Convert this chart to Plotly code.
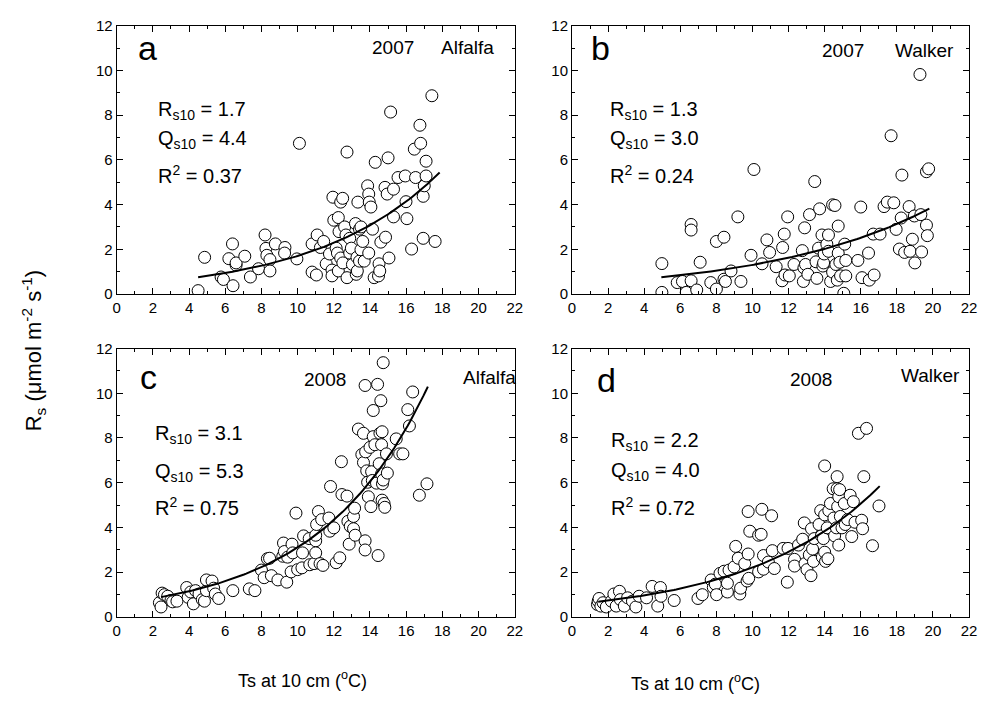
import numpy as np
import plotly.graph_objects as go

# page is 989x704; the browser body has an 8px margin, so the figure is 973x688 placed at (8, 8)
PAGE_W, PAGE_H, OFF = 989, 704, 8
W, H = PAGE_W - 2 * OFF, PAGE_H - 2 * OFF

# ---------------- data ----------------
a_x = [4.5, 4.86, 5.77, 5.9, 6.2, 6.4, 6.43, 6.6, 6.6, 7.08, 7.39, 7.84, 8.2, 8.25, 8.3, 8.47, 8.47, 8.77, 9.3, 9.28,
       9.96, 10.1, 10.8, 10.8, 11.04, 11.08, 11.26, 11.44, 11.58, 11.76, 11.9, 11.9, 11.95, 12.0, 12.13, 12.25, 12.29,
       12.38, 12.49, 12.25, 12.2, 12.38, 12.6, 12.5, 12.67, 12.73, 12.73, 12.88, 12.88, 12.97, 13.03, 13.2, 13.28, 13.42,
       13.33, 13.24, 13.3, 13.42, 13.5, 13.6, 13.68, 13.5, 13.87, 13.93, 13.96, 14.05, 13.93, 14.14, 14.23, 14.29, 14.5,
       14.47, 14.54, 14.6, 14.83, 14.86, 14.95, 15.0, 15.05, 15.14, 15.3, 15.3, 15.55, 15.95, 15.99, 16.04, 16.3, 16.45,
       16.52, 16.76, 16.8, 16.94, 16.94, 17.0, 17.1, 17.1, 17.42, 17.6]
a_y = [0.15, 1.64, 0.76, 0.65, 1.58, 2.24, 0.37, 1.29, 1.39, 1.69, 0.76, 1.13, 2.64, 2.04, 1.73, 1.54, 1.03, 2.24, 2.08, 1.83,
       1.57, 6.74, 2.24, 0.98, 0.85, 2.64, 2.08, 2.35, 1.35, 1.79, 1.07, 0.81, 4.33, 3.3, 2.05, 1.03, 2.79,
       4.11, 4.28, 3.42, 1.83, 1.61, 3.0, 1.39, 2.64, 6.35, 0.73, 2.49, 1.83, 2.05, 1.32, 3.15, 1.64, 2.9,
       4.11, 0.88, 1.03, 1.47, 1.98, 2.35, 1.47, 3.0, 4.84, 4.47, 4.11, 3.89, 1.83, 2.9, 0.73, 5.89, 1.35,
       0.81, 1.03, 2.32, 4.77, 2.54, 4.47, 6.09, 1.61, 8.14, 4.69, 3.45, 5.21, 5.28, 4.13, 3.37, 2.01, 6.48,
       5.21, 7.55, 6.74, 2.49, 4.37, 4.84, 5.94, 5.28, 8.87, 2.35]

b_x = [4.98, 4.98, 5.83, 6.12, 6.33, 6.6, 6.6, 6.6, 6.91, 7.1, 7.69, 8.0, 8.0, 8.42, 8.42, 8.5, 8.81, 9.19, 9.36, 9.92,
       10.08, 10.53, 10.8, 10.95, 11.31, 11.64, 11.67, 11.76, 11.8, 11.95, 12.04, 12.3, 12.76, 12.82, 12.89, 12.85, 12.94,
       13.07, 13.16, 13.45, 13.52, 13.57, 13.66, 13.72, 13.85, 13.9, 13.94, 13.97, 14.12, 14.21, 14.21, 14.33, 14.44,
       14.44, 14.57, 14.62, 14.7, 14.75, 14.75, 14.84, 14.88, 15.11, 15.17, 15.17, 15.06, 16.0, 15.84, 16.07, 16.43,
       16.47, 16.69, 16.74, 17.07, 17.29, 17.47, 17.68, 17.83, 17.96, 18.14, 18.24, 18.28, 18.43, 18.68, 18.73, 18.86,
       18.97, 19.0, 19.28, 19.33, 19.37, 19.64, 19.64, 19.69, 19.76]
b_y = [1.36, 0.07, 0.51, 0.56, 0.07, 0.59, 3.11, 2.86, 0.18, 1.42, 0.51, 2.35, 0.22, 2.54, 0.66, 0.56, 1.03, 3.45, 0.56, 1.73,
       5.57, 1.35, 2.42, 1.86, 1.22, 0.59, 2.08, 2.68, 0.85, 3.45, 0.81, 1.32, 1.94, 0.56, 2.96, 1.17, 1.32,
       0.88, 3.55, 5.03, 1.44, 0.7, 2.05, 3.81, 2.64, 1.25, 1.39, 1.79, 2.23, 2.64, 1.91, 0.56, 0.98,
       3.99, 3.96, 1.32, 0.62, 3.04, 1.83, 1.42, 0.81, 2.23, 1.5, 0.81, 0.03, 3.89, 1.5, 0.73, 1.83,
       0.62, 2.68, 0.85, 2.68, 3.91, 4.11, 7.08, 4.08, 2.89, 2.01, 3.4, 5.32, 1.86, 3.91, 1.91, 2.45,
       3.49, 1.39, 9.82, 3.55, 1.88, 3.08, 5.47, 2.61, 5.6]

c_x = [2.36, 2.45, 2.51, 2.64, 2.82, 3.0, 3.09, 3.33, 3.87, 3.95, 4.09, 4.24, 4.36, 4.55, 4.73, 4.85, 4.96, 4.96, 5.27, 5.36,
       5.45, 5.64, 6.42, 7.33, 7.64, 8.0, 8.15, 8.33, 8.45, 8.55, 8.91, 9.18, 9.22, 9.27, 9.4, 9.45, 9.64, 9.69, 9.73,
       9.91, 10.0, 10.24, 10.27, 10.33, 10.64, 10.67, 10.91, 11.0, 11.0, 11.0, 11.05, 11.15, 11.24, 11.33, 11.4, 11.73,
       11.78, 11.82, 12.0, 12.13, 12.33, 12.42, 12.45, 12.73, 12.78, 12.85, 12.91, 13.09, 13.15, 13.09, 13.18, 13.36,
       13.55, 13.64, 13.64, 13.73, 13.73, 13.73, 13.76, 13.82, 13.87, 13.91, 14.0, 14.05, 14.09, 14.13, 14.18, 14.18,
       14.27, 14.36, 14.42, 14.45, 14.51, 14.55, 14.6, 14.64, 14.64, 14.67, 14.67, 14.69, 14.73, 14.73, 14.78, 14.82,
       14.91, 14.96, 15.45, 15.64, 15.82, 16.09, 16.18, 16.36, 16.73, 17.15]
c_y = [0.63, 0.44, 1.06, 0.99, 0.92, 0.73, 0.67, 0.7, 1.31, 0.87, 1.11, 0.58, 1.17, 1.02, 0.77, 0.7, 1.17, 1.65, 1.6, 1.28,
       1.02, 0.82, 1.17, 1.25, 1.17, 2.09, 1.75, 2.6, 2.62, 1.84, 1.65, 2.71, 3.3, 2.92, 1.55, 2.67, 2.01, 3.25, 2.86,
       4.64, 2.11, 2.19, 2.86, 3.62, 3.5, 2.33, 2.38, 3.4, 2.86, 3.65, 4.13, 4.71, 2.38, 4.35, 2.3, 4.42,
       3.83, 5.83, 3.98, 2.42, 2.64, 6.94, 5.47, 5.4, 4.27, 3.25, 4.05, 4.49, 4.86, 3.94, 3.65, 8.4,
       7.26, 8.21, 6.9, 10.35, 3.4, 2.99, 7.38, 6.53, 6.02, 5.37, 7.58, 4.93, 6.49, 6.1, 9.23, 8.06,
       7.7, 5.98, 10.4, 2.74, 6.85, 8.21, 9.67, 6.39, 7.7, 5.22, 8.28, 5.95, 11.37, 6.12, 5.07, 4.9,
       7.29, 6.43, 7.96, 7.29, 7.29, 9.27, 8.54, 10.06, 5.44, 5.95]

d_x = [1.41, 1.45, 1.5, 1.6, 1.72, 1.9, 2.18, 2.32, 2.45, 2.63, 2.68, 2.9, 3.08, 3.35, 3.54, 3.72, 4.13, 4.44, 4.75, 4.9,
       4.93, 5.66, 6.98, 7.22, 7.71, 7.83, 7.94, 8.01, 8.2, 8.43, 8.61, 8.61, 8.7, 8.98, 9.07, 9.21, 9.3, 9.34, 9.57,
       9.7, 9.76, 9.76, 9.79, 9.85, 10.34, 10.34, 10.48, 10.52, 10.61, 10.61, 10.88, 11.06, 11.1, 11.21, 11.7, 11.93,
       11.97, 12.33, 12.33, 12.55, 12.78, 12.87, 12.91, 13.02, 13.15, 13.24, 13.27, 13.33, 13.42, 13.38, 13.69, 13.78,
       13.82, 13.87, 13.93, 14.0, 14.0, 14.0, 14.05, 14.14, 14.18, 14.23, 14.32, 14.47, 14.51, 14.55, 14.65, 14.69,
       14.69, 14.72, 14.78, 14.78, 14.83, 14.87, 14.96, 15.09, 15.14, 15.27, 15.41, 15.5, 15.59, 15.68, 15.87, 16.05,
       16.1, 16.17, 16.32, 16.65, 17.01]
d_y = [0.55, 0.7, 0.82, 0.48, 0.63, 0.44, 0.7, 1.02, 0.48, 1.14, 0.77, 0.48, 0.85, 0.7, 0.44, 0.92, 0.85, 1.36, 0.48, 1.31,
       0.92, 0.73, 0.82, 0.99, 1.65, 1.31, 1.46, 0.99, 1.94, 2.04, 1.11, 1.5, 2.09, 2.23, 3.15, 2.62, 1.02, 1.28, 2.38,
       1.6, 2.81, 4.71, 1.72, 3.83, 2.01, 3.65, 3.69, 4.81, 2.74, 2.13, 2.45, 4.52, 2.96, 2.16, 3.06, 1.55,
       3.06, 2.57, 2.27, 3.21, 3.47, 4.2, 2.38, 2.11, 2.77, 1.84, 3.94, 3.03, 3.5, 2.48, 4.13, 4.75,
       3.62, 2.67, 3.5, 6.75, 4.56, 2.89, 2.48, 3.98, 2.6, 4.75, 5.07, 5.73, 4.42, 3.62, 3.98, 5.73,
       6.27, 4.93, 5.37, 3.21, 5.69, 4.49, 3.98, 5.07, 4.13, 4.35, 5.44, 3.59, 5.15, 4.23, 8.21, 4.32,
       3.94, 6.27, 8.43, 3.18, 4.96]

# fitted model parameters (Rs = Rs10 * Q10^((T-10)/10)) and fitted T range
fit_rs10 = [1.7, 1.3, 3.1, 2.2]
fit_q10 = [4.4, 3.0, 5.3, 4.0]
fit_r2 = ["0.37", "0.24", "0.75", "0.72"]
fit_tmin = [4.5, 4.95, 2.45, 1.45]
fit_tmax = [17.85, 19.8, 17.2, 17.05]

panel_letters = ["a", "b", "c", "d"]
panel_years = ["2007", "2007", "2008", "2008"]
panel_sites = ["Alfalfa", "Walker", "Alfalfa", "Walker"]

xs = [a_x, b_x, c_x, d_x]
ys = [a_y, b_y, c_y, d_y]

# ---------------- layout geometry (page pixels) ----------------
FONT = "Liberation Sans, Arial, sans-serif"
px_boxes = [(114, 517, 17, 292), (575, 977, 17, 292), (114, 517, 348, 623), (575, 977, 348, 623)]

def px(x):
    return (x - OFF) / W

def py(y):
    return 1 - (y - OFF) / H

fig = go.Figure()
axis_names = [("x", "y"), ("x2", "y2"), ("x3", "y3"), ("x4", "y4")]

for i in range(4):
    xa, ya = axis_names[i]
    fig.add_trace(go.Scatter(
        x=xs[i], y=ys[i], mode="markers", xaxis=xa, yaxis=ya,
        marker=dict(symbol="circle", size=12, color="white", line=dict(color="black", width=1)),
        showlegend=False, hoverinfo="skip"))
    t = np.linspace(fit_tmin[i], fit_tmax[i], 120)
    fy = fit_rs10[i] * fit_q10[i] ** ((t - 10) / 10)
    fig.add_trace(go.Scatter(
        x=t, y=fy, mode="lines", xaxis=xa, yaxis=ya,
        line=dict(color="black", width=2), showlegend=False, hoverinfo="skip"))

layout = dict(
    width=W, height=H, margin=dict(l=0, r=0, t=0, b=0),
    paper_bgcolor="white", plot_bgcolor="white",
    font=dict(family=FONT, size=15, color="black"),
)
for i in range(4):
    x0, x1, y0, y1 = px_boxes[i]
    suf = "" if i == 0 else str(i + 1)
    common = dict(showline=True, linecolor="black", linewidth=1, mirror="ticks",
                  ticks="inside", ticklen=6, tickwidth=1, tickcolor="black",
                  showgrid=False, zeroline=False, fixedrange=True,
                  tickfont=dict(family=FONT, size=15, color="black"))
    layout["xaxis" + suf] = dict(common, domain=[px(x0), px(x1)], range=[0, 22],
                                 tickmode="linear", tick0=0, dtick=2, anchor="y" + suf,
                                 minor=dict(ticks="inside", ticklen=3, dtick=1, tickcolor="black", showgrid=False))
    layout["yaxis" + suf] = dict(common, domain=[py(y1), py(y0)], range=[0, 12],
                                 tickmode="linear", tick0=0, dtick=2, anchor="x" + suf,
                                 minor=dict(ticks="inside", ticklen=3, dtick=1, tickcolor="black", showgrid=False))
fig.update_layout(**layout)

ann = []
def add(text, x, y, size, xanchor="left", yanchor="middle", angle=0):
    ann.append(dict(text=text, x=px(x), y=py(y), xref="paper", yref="paper", showarrow=False,
                    xanchor=xanchor, yanchor=yanchor, textangle=angle,
                    font=dict(family=FONT, size=size, color="black")))

letter_pos = [(134, 40), (592, 40), (136, 377), (598, 380)]
year_pos = [(370, 39), (826, 42), (302, 380), (794, 380)]
site_pos = [(498, 39), (964, 42), (520, 378), (970, 376)]
stat_x = [154, 611, 151, 612]
stat_y = [(104, 134, 170), (104, 134, 170), (436, 475, 510), (443, 474, 510)]

for i in range(4):
    add(panel_letters[i], letter_pos[i][0], letter_pos[i][1], 34)
    add(panel_years[i], year_pos[i][0], year_pos[i][1], 19)
    add(panel_sites[i], site_pos[i][0], site_pos[i][1], 19, xanchor="right")
    add("R<sub>s10</sub> = %.1f" % fit_rs10[i], stat_x[i], stat_y[i][0], 20)
    add("Q<sub>s10</sub> = %.1f" % fit_q10[i], stat_x[i], stat_y[i][1], 20)
    add("R<sup>2</sup> = " + fit_r2[i], stat_x[i], stat_y[i][2], 20)

add("R<sub>s</sub> (μmol m<sup>-2</sup> s<sup>-1</sup>)", 30, 350, 22, xanchor="center", angle=-90)
add("Ts at 10 cm (<sup>o</sup>C)", 302, 687, 18, xanchor="center")
add("Ts at 10 cm (<sup>o</sup>C)", 700, 690, 18, xanchor="center")

fig.update_layout(annotations=ann)
fig.write_html("out.html")
